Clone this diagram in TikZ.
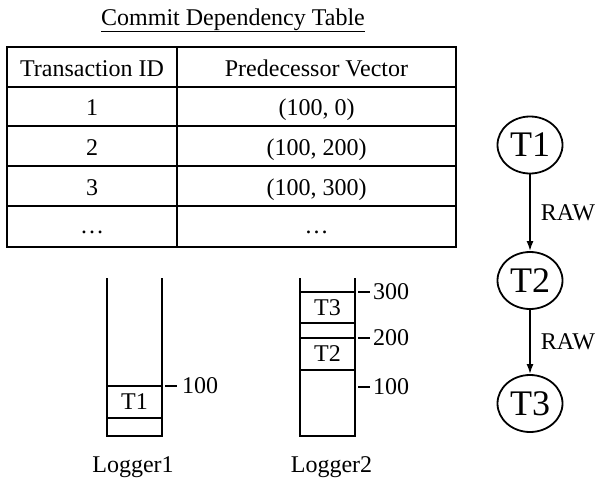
\documentclass[tikz,border=0pt]{standalone}
\usepackage{fontspec}
\setmainfont{Liberation Serif}
\usetikzlibrary{arrows.meta,shapes.geometric}
\tikzset{
	txt/.style = {font=\fontsize{24}{28}\selectfont, inner sep=0pt},
	grid/.style = {line width=1.2pt},
	stack/.style = {line width=2pt},
	tick/.style = {line width=1.2pt},
	txn/.style = {draw, ellipse, line width=1.8pt, minimum width=65pt,
		minimum height=57pt, inner sep=0pt, font=\fontsize{36}{40}\selectfont},
	dep/.style = {-{Latex[length=10pt,width=7pt]}, line width=1.8pt},
}
\begin{document}
\begin{tikzpicture}[x=1pt, y=-1pt]
	\useasboundingbox (0,0) rectangle (602,479);

	% Table
	\node[txt, anchor=base] (title) at (233,25) {\underline{Commit Dependency Table}};
	\draw[grid] (7,47) rectangle (456,247);
	\foreach \y in {87,126,166,206}
		\draw[grid] (7,\y) -- (456,\y);
	\draw[grid] (177,47) -- (177,247);
	\node[txt, anchor=base] (idh) at (92,76) {Transaction ID};
	\node[txt, anchor=base] (vech) at (316.5,76) {Predecessor Vector};
	\node[txt, anchor=base] (id1) at (92,115.5) {1};
	\node[txt, anchor=base] (vec1) at (316.5,115.5) {(100, 0)};
	\node[txt, anchor=base] (id2) at (92,155) {2};
	\node[txt, anchor=base] (vec2) at (316.5,155) {(100, 200)};
	\node[txt, anchor=base] (id3) at (92,195) {3};
	\node[txt, anchor=base] (vec3) at (316.5,195) {(100, 300)};
	\node[txt, anchor=base] (idx) at (92,233) {\ldots};
	\node[txt, anchor=base] (vecx) at (316.5,233) {\ldots};

	% Logger1
	\draw[stack] (107,278) -- (107,436) -- (162,436) -- (162,278);
	\draw[stack] (107,386) -- (162,386);
	\draw[stack] (107,418) -- (162,418);
	\node[txt] (l1t1) at (134.5,402) {T1};
	\draw[tick] (165,386) -- (177,386);
	\node[txt, anchor=west] (l1m) at (182,386) {100};
	\node[txt, anchor=base] (log1) at (133,472) {Logger1};

	% Logger2
	\draw[stack] (300,278) -- (300,436) -- (355,436) -- (355,278);
	\foreach \y in {292,323,338,370}
		\draw[stack] (300,\y) -- (355,\y);
	\node[txt] (l2t3) at (327.5,307.5) {T3};
	\node[txt] (l2t2) at (327.5,354) {T2};
	\draw[tick] (358,292) -- (370,292);
	\draw[tick] (358,338) -- (370,338);
	\draw[tick] (358,387) -- (370,387);
	\node[txt, anchor=west] (l2c) at (373,292) {300};
	\node[txt, anchor=west] (l2b) at (373,338) {200};
	\node[txt, anchor=west] (l2a) at (373,387) {100};
	\node[txt, anchor=base] (log2) at (331.5,472) {Logger2};

	% Nodes
	\node[txn] (T1) at (530,145) {T1};
	\node[txn] (T2) at (530,280.5) {T2};
	\node[txn] (T3) at (530,403.5) {T3};

	% Arrows
	\draw[dep] (T1) -- (T2) node[midway, txt, anchor=west, xshift=10pt] {RAW};
	\draw[dep] (T2) -- (T3) node[midway, txt, anchor=west, xshift=10pt] {RAW};
\end{tikzpicture}
\end{document}
